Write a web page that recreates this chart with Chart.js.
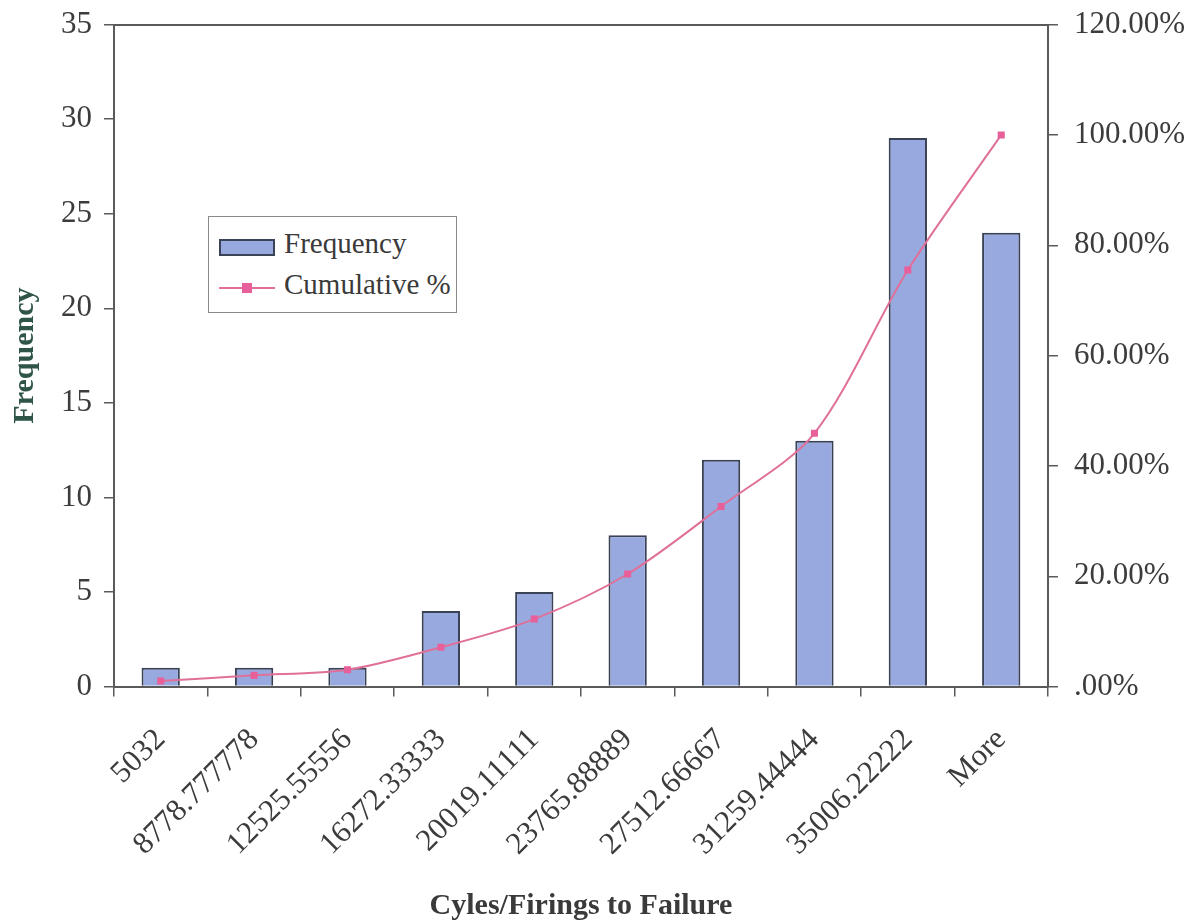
<!DOCTYPE html>
<html>
<head>
<meta charset="utf-8">
<script src="https://cdn.jsdelivr.net/npm/chart.js@4"></script>
<style>
    html, body { margin: 0; padding: 0; background: #ffffff; }
    #wrap { position: relative; width: 1193px; height: 924px; overflow: hidden; }
    #paretoChart { position: absolute; left: 0; top: -10px; }
    #legend {
        position: absolute; left: 208px; top: 216px; width: 247px; height: 95px;
        border: 1.5px solid #8a8a8a; background: #fff;
        font-family: 'Liberation Serif', serif; font-size: 29px; color: #3a3a3a;
    }
    .item { position: absolute; left: 10px; height: 30px; }
    .item span { position: absolute; left: 65px; top: -4px; white-space: nowrap; }
    .swatch { position: absolute; left: 0; top: 8px; width: 52px; height: 13px; background: #98a9e0; border: 2px solid #3a4256; }
    .line { position: absolute; left: 0; top: 15px; width: 56px; height: 2px; background: #e07098; }
    .mark { position: absolute; left: 23px; top: 11px; width: 10px; height: 10px; background: #e8609a; }
</style>
</head>
<body>
<div id="wrap">
    <canvas id="paretoChart" width="1193" height="934"></canvas>
    <div id="legend">
        <div class="item" style="top:14px"><div class="swatch"></div><span>Frequency</span></div>
        <div class="item" style="top:55px"><div class="line"></div><div class="mark"></div><span>Cumulative %</span></div>
    </div>
</div>
<script>
// bins (Excel histogram output)
const bins = ['5032', '8778.777778', '12525.55556', '16272.33333', '20019.11111',
    '23765.88889', '27512.66667', '31259.44444', '35006.22222', 'More'];
const frequency = [1, 1, 1, 4, 5, 8, 12, 13, 29, 24];
const cumulativePct = [1.02, 2.04, 3.06, 7.14, 12.24, 20.41, 32.65, 45.92, 75.51, 100];

const serif = 'Liberation Serif';
const tickColor = '#3c3c3c';
const axisColor = '#5a5a5a';

const ctx = document.getElementById('paretoChart').getContext('2d');

new Chart(ctx, {
    type: 'bar',
    data: {
        labels: bins,
        datasets: [{
            type: 'line',
            label: 'Cumulative %',
            data: cumulativePct,
            yAxisID: 'y2',
            borderColor: '#e07098',
            borderWidth: 2,
            backgroundColor: '#e8609a',
            pointStyle: 'rect',
            pointRadius: 5,
            pointBorderWidth: 0,
            tension: 0.3,
            order: 0
        }, {
            label: 'Frequency',
            data: frequency,
            yAxisID: 'y',
            backgroundColor: '#98a9e0',
            borderColor: '#3a4256',
            borderWidth: 2,
            categoryPercentage: 1,
            barPercentage: 0.41,
            order: 1
        }]
    },
    options: {
        responsive: false,
        animation: false,
        layout: { padding: { top: 0, right: -8, left: 7, bottom: 0 } },
        plugins: {
            legend: { display: false },
            tooltip: { enabled: false }
        },
        scales: {
            x: {
                grid: { drawOnChartArea: false, tickLength: 10, color: axisColor, lineWidth: 1.5 },
                border: { color: axisColor, width: 2 },
                ticks: {
                    color: tickColor,
                    font: { family: serif, size: 31 },
                    maxRotation: 45, minRotation: 45, padding: 25
                },
                title: {
                    display: true, text: 'Cyles/Firings to Failure', color: '#3a3a3a',
                    font: { family: serif, size: 30, weight: 'bold' },
                    padding: { top: 0, bottom: 0 }
                }
            },
            xTop: {
                position: 'top',
                grid: { display: false },
                border: { color: axisColor, width: 2 },
                ticks: { display: false }
            },
            y: {
                position: 'left',
                min: 0, max: 35,
                ticks: { stepSize: 5, color: tickColor, font: { family: serif, size: 31 }, padding: 12 },
                grid: { drawOnChartArea: false, tickLength: 10, color: axisColor, lineWidth: 1.5 },
                border: { color: axisColor, width: 2 },
                title: {
                    display: true, text: 'Frequency', color: '#2f5548',
                    font: { family: serif, size: 30, weight: 'bold' },
                    padding: { top: 0, bottom: 6 }
                }
            },
            y2: {
                position: 'right',
                min: 0, max: 120,
                ticks: {
                    stepSize: 20, color: tickColor, font: { family: serif, size: 31 }, padding: 16,
                    callback: v => v === 0 ? '.00%' : v.toFixed(2) + '%'
                },
                grid: { drawOnChartArea: false, tickLength: 10, color: axisColor, lineWidth: 1.5 },
                border: { color: axisColor, width: 2 }
            }
        }
    }
});
</script>
</body>
</html>
